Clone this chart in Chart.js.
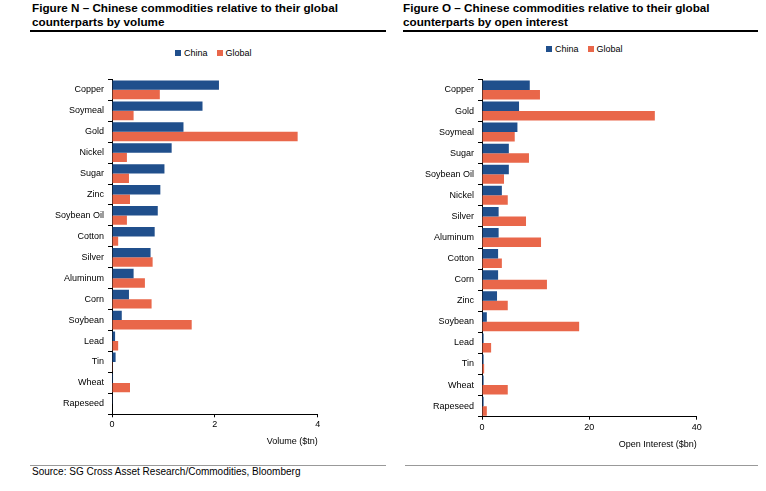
<!DOCTYPE html>
<html>
<head>
<meta charset="utf-8">
<script src="https://cdn.jsdelivr.net/npm/chart.js@4.4.1/dist/chart.umd.min.js"></script>
<style>
  body { margin: 0; width: 766px; height: 491px; background: #fff; position: relative; overflow: hidden;
         font-family: "Liberation Sans", Arial, sans-serif; color: #000; }
  .title { position: absolute; top: 1px; font-weight: bold; font-size: 11.7px; line-height: 14px; }
  .rule { position: absolute; top: 30px; height: 2px; background: #000; }
  .legend { position: absolute; font-size: 9px; white-space: nowrap; }
  .legend i { display: inline-block; width: 6px; height: 6px; margin-right: 3px; vertical-align: 0; }
  .legend span { margin-right: 9px; }
  .src-rule { position: absolute; top: 465px; height: 1px; background: #999; }
  .source { position: absolute; left: 32px; top: 466px; font-size: 10px; }
  .wrap { position: absolute; }
</style>
</head>
<body>
<div class="title" style="left:32px">Figure N – Chinese commodities relative to their global<br>counterparts by volume</div>
<div class="rule" style="left:30px;width:356px"></div>
<div class="title" style="left:403px">Figure O – Chinese commodities relative to their global<br>counterparts by open interest</div>
<div class="rule" style="left:403px;width:355px"></div>

<div class="legend" style="left:175px;top:48px"><span><i style="background:#204f8c"></i>China</span><span><i style="background:#e9674a"></i>Global</span></div>
<div class="legend" style="left:546px;top:44px"><span><i style="background:#204f8c"></i>China</span><span><i style="background:#e9674a"></i>Global</span></div>

<div class="wrap" style="left:0;top:70px"><canvas id="volChart" width="340" height="385"></canvas></div>
<div class="wrap" style="left:383px;top:70px"><canvas id="oiChart" width="340" height="389"></canvas></div>

<div class="src-rule" style="left:30px;width:356px"></div>
<div class="src-rule" style="left:405px;width:353px"></div>
<div class="source">Source: SG Cross Asset Research/Commodities, Bloomberg</div>

<script>
// --- Figure N: volume ($tn) ---
const volLabels = ['Copper', 'Soymeal', 'Gold', 'Nickel', 'Sugar', 'Zinc', 'Soybean Oil', 'Cotton',
                   'Silver', 'Aluminum', 'Corn', 'Soybean', 'Lead', 'Tin', 'Wheat', 'Rapeseed'];
const volChina  = [2.08, 1.76, 1.39, 1.16, 1.02, 0.94, 0.89, 0.83, 0.75, 0.42, 0.33, 0.19, 0.06, 0.07, 0.02, 0.005];
const volGlobal = [0.93, 0.42, 3.61, 0.29, 0.33, 0.35, 0.29, 0.12, 0.79, 0.64, 0.77, 1.55, 0.12, 0.005, 0.35, 0];
const volTicks  = [0, 2, 4];

// --- Figure O: open interest ($bn) ---
const oiLabels = ['Copper', 'Gold', 'Soymeal', 'Sugar', 'Soybean Oil', 'Nickel', 'Silver', 'Aluminum',
                  'Cotton', 'Corn', 'Zinc', 'Soybean', 'Lead', 'Tin', 'Wheat', 'Rapeseed'];
const oiChina  = [8.9, 6.9, 6.6, 5.0, 5.0, 3.7, 3.1, 3.1, 3.0, 3.0, 2.8, 0.9, 0.3, 0.3, 0.3, 0.3];
const oiGlobal = [10.8, 32.2, 6.1, 8.75, 4.1, 4.8, 8.2, 11.0, 3.7, 12.1, 4.8, 18.1, 1.7, 0.4, 4.8, 0.9];
const oiTicks  = [0, 20, 40];

const BLUE = '#204f8c';
const ORANGE = '#e9674a';
const FONT = { family: '"Liberation Sans", Arial, sans-serif', size: 9 };

function makeChart(id, labels, china, global, ticks, axisTitle, yWidth, xHeight, padRight, padTop, titlePad) {
    return new Chart(document.getElementById(id), {
        type: 'bar',
        data: {
            labels,
            datasets: [
                { label: 'China', data: china, backgroundColor: BLUE },
                { label: 'Global', data: global, backgroundColor: ORANGE }
            ]
        },
        options: {
            indexAxis: 'y',
            responsive: false,
            animation: false,
            categoryPercentage: 0.9,
            barPercentage: 1.0,
            layout: { padding: { top: padTop, right: padRight, bottom: 0, left: 0 } },
            plugins: { legend: { display: false }, tooltip: { enabled: false } },
            scales: {
                x: {
                    min: ticks[0],
                    max: ticks[ticks.length - 1],
                    afterBuildTicks: s => { s.ticks = ticks.map(v => ({ value: v })); },
                    afterFit: s => { s.height = xHeight; },
                    grid: { drawOnChartArea: false, tickLength: 3, color: '#000' },
                    border: { color: '#000' },
                    ticks: { color: '#000', font: FONT, padding: 2, maxRotation: 0 },
                    title: { display: true, text: axisTitle, align: 'end', color: '#000', font: FONT,
                             padding: { top: 0, bottom: titlePad } }
                },
                y: {
                    afterFit: s => { s.width = yWidth; },
                    grid: { drawOnChartArea: false, tickLength: 4, color: '#000' },
                    border: { color: '#000' },
                    ticks: { color: '#000', font: FONT, padding: 4, autoSkip: false }
                }
            }
        }
    });
}

makeChart('volChart', volLabels, volChina, volGlobal, volTicks, 'Volume ($tn)', 112, 40.7, 22.3, 7.5, 8);
makeChart('oiChart', oiLabels, oiChina, oiGlobal, oiTicks, 'Open Interest ($bn)', 99, 42.3, 26.3, 4.3, 9.3);
</script>
</body>
</html>
